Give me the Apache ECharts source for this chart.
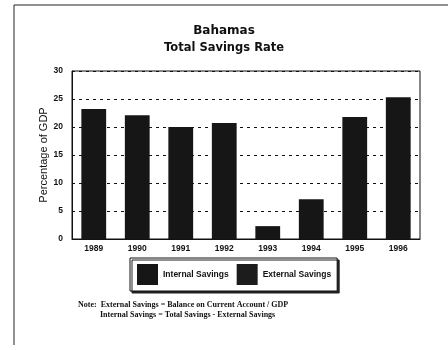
<!DOCTYPE html>
<html><head><meta charset="utf-8">
<script src="https://cdn.jsdelivr.net/npm/echarts@6/dist/echarts.min.js"></script>
<style>html,body{margin:0;padding:0;background:#fff}#c{width:448px;height:350px}</style>
</head><body><div id="c"></div>
<script>
const categories = ['1989','1990','1991','1992','1993','1994','1995','1996'];
const internalSavings = [23.2, 22.1, 20.0, 20.7, 2.3, 7.1, 21.8, 25.3];
const externalSavings = [0, 0, 0, 0, 0, 0, 0, 0];
const yTicks = [0, 5, 10, 15, 20, 25, 30];

const chart = echarts.init(document.getElementById('c'));
const F = 'Liberation Sans, Arial, sans-serif';
const T = 'DejaVu Sans, sans-serif';
chart.setOption({
  animation: false,
  title: [
    {text: 'Bahamas', left: 'center', top: 20, textStyle: {fontFamily: T, fontSize: 12, fontWeight: 'bold', color: '#111'}},
    {text: 'Total Savings Rate', left: 'center', top: 37, textStyle: {fontFamily: T, fontSize: 11.5, fontWeight: 'bold', color: '#111'}}
  ],
  legend: {
    data: ['Internal Savings', 'External Savings'],
    left: 130, top: 258,
    icon: 'rect',
    itemWidth: 21, itemHeight: 21, itemGap: 8,
    padding: [6, 6, 6, 7],
    borderColor: '#111', borderWidth: 1,
    shadowColor: '#222', shadowOffsetX: 2, shadowOffsetY: 2, shadowBlur: 0,
    backgroundColor: '#fff',
    textStyle: {fontFamily: F, fontSize: 8.5, fontWeight: 'bold', color: '#111'},
    itemStyle: {borderWidth: 0}
  },
  grid: {left: 72, right: 28, top: 71, bottom: 111, show: true, borderColor: '#111', borderWidth: 1},
  xAxis: {
    type: 'category', data: categories,
    axisLine: {lineStyle: {color: '#111'}},
    axisTick: {show: false},
    axisLabel: {fontFamily: F, fontSize: 8.5, fontWeight: 'bold', color: '#111', margin: 5}
  },
  yAxis: {
    type: 'value', min: yTicks[0], max: yTicks[yTicks.length - 1], interval: 5,
    name: 'Percentage of GDP', nameLocation: 'middle', nameGap: 23, nameMoveOverlap: false,
    nameTextStyle: {fontFamily: F, fontSize: 11, color: '#111'},
    axisLine: {show: true, lineStyle: {color: '#111'}},
    axisTick: {show: true, length: 3, inside: true, lineStyle: {color: '#111'}},
    axisLabel: {fontFamily: F, fontSize: 8.5, fontWeight: 'bold', color: '#111', margin: 9},
    splitLine: {show: true, lineStyle: {color: '#111', type: [3, 4], width: 1}}
  },
  series: [
    {name: 'Internal Savings', type: 'bar', stack: 's', data: internalSavings, barWidth: '57%', itemStyle: {color: '#161616'}},
    {name: 'External Savings', type: 'bar', stack: 's', data: externalSavings, barWidth: '57%', itemStyle: {color: '#1c1c1c'}}
  ],
  graphic: [
    {type: 'line', shape: {x1: 14, y1: 5, x2: 448, y2: 5}, style: {stroke: '#222', lineWidth: 1}},
    {type: 'line', shape: {x1: 14, y1: 5, x2: 14, y2: 345}, style: {stroke: '#222', lineWidth: 1}},
    {type: 'text', left: 78, top: 301, style: {text: 'Note:  External Savings = Balance on Current Account / GDP', font: 'bold 8px "Liberation Serif", serif', fill: '#111'}},
    {type: 'text', left: 100, top: 311, style: {text: 'Internal Savings = Total Savings - External Savings', font: 'bold 8px "Liberation Serif", serif', fill: '#111'}}
  ]
});
</script></body></html>
